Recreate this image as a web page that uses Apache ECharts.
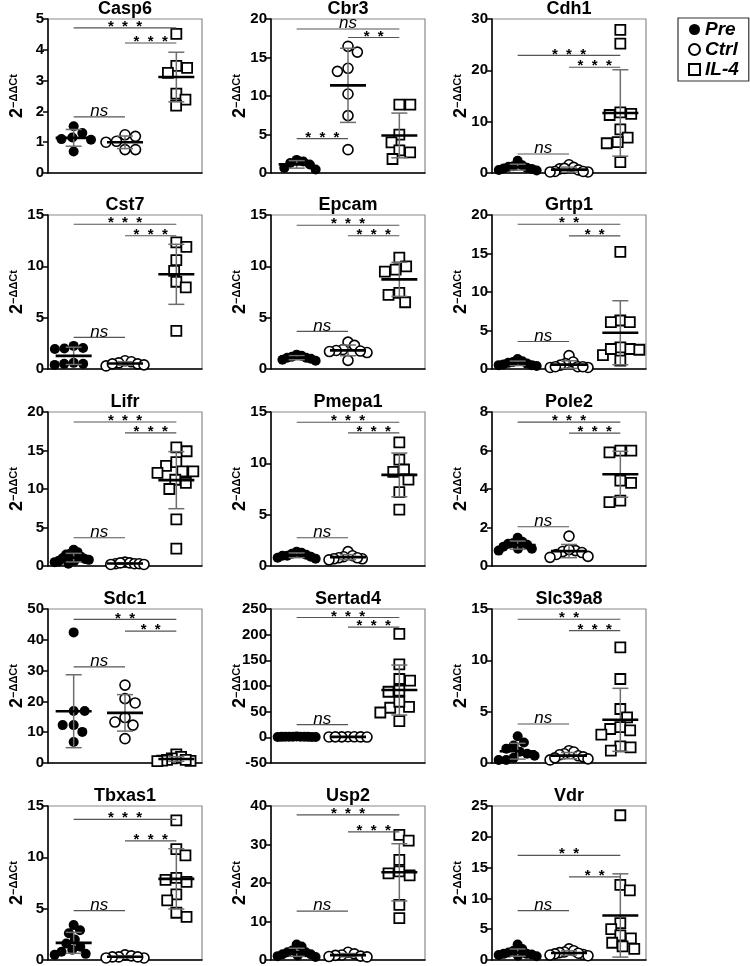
<!DOCTYPE html>
<html><head><meta charset="utf-8">
<script src="https://cdn.jsdelivr.net/npm/echarts@6/dist/echarts.min.js"></script>
<style>html,body{margin:0;padding:0;background:#fff}#c{width:750px;height:966px}</style>
</head><body><div id="c"></div>
<script>
const genes = ['Casp6','Cbr3','Cdh1','Cst7','Epcam','Grtp1','Lifr','Pmepa1','Pole2','Sdc1','Sertad4','Slc39a8','Tbxas1','Usp2','Vdr'];
const groupNames = ['Pre','Ctrl','IL-4'];

const preValues = [
  [1.30,1.52,1.10,1.08,0.70,1.15],
  [1.1,1.7,0.45,0.65,1.5,1.3],
  [2.4,1.5,1.3,1.0,0.8,0.6,0.5,1.2,0.9],
  [2.0,1.95,2.05,2.25,0.5,0.4,0.5,0.6],
  [1.4,1.3,1.2,1.1,1.0,0.9,0.8,1.1],
  [1.3,1.0,0.9,0.8,0.7,0.6,0.5,0.4,0.5],
  [2.1,1.8,1.6,1.5,1.2,1.0,0.9,0.7,0.6,0.5,0.8,0.3],
  [1.4,1.3,1.2,1.1,1.0,0.9,0.7,0.8,1.0],
  [1.47,1.26,1.2,1.1,1.0,0.9,0.8,0.9,1.15],
  [42.4,16.9,16.9,12.3,12.3,10.1,6.8],
  [1.5,1.2,1.0,0.9,0.8,0.7,1.1,1.0,0.9,0.8,1.1],
  [2.6,2.0,1.7,1.4,1.1,0.9,0.7,0.5,0.3,0.3],
  [3.4,2.9,2.6,2.0,1.6,1.3,1.0,0.8,0.6,0.5],
  [4.0,3.5,2.5,2.0,1.5,1.2,1.0,0.8,2.0,1.5],
  [2.5,1.8,1.5,1.2,1.0,0.9,0.8,0.7,0.6,1.0]
];
const ctrlValues = [
  [1.24,1.19,1.0,1.03,0.76,0.76],
  [15.7,16.45,13.6,13.2,10.26,7.45,3.03],
  [1.6,1.1,0.8,0.6,0.3,0.2,0.2,0.9,0.3],
  [0.8,0.7,0.6,0.5,0.4,0.3,0.5],
  [2.62,2.3,1.9,1.8,1.7,1.6,0.84,1.75],
  [1.74,0.9,0.7,0.5,0.3,0.2,0.2,0.3,0.3],
  [0.5,0.4,0.3,0.3,0.2,0.3,0.4,0.2],
  [1.4,1.0,0.9,0.8,0.7,0.6,0.7,0.8],
  [1.55,0.8,0.75,0.7,0.6,0.5,0.45,0.85],
  [25.3,19.5,20.9,13.3,12.3,14.75,7.9],
  [1.2,1.0,0.9,0.8,0.6,0.7,0.9],
  [1.2,1.07,0.9,0.8,0.7,0.6,0.4,0.3,0.5],
  [0.5,0.4,0.3,0.3,0.2,0.2,0.3],
  [2.0,1.6,1.3,1.0,0.8,1.2,0.9],
  [1.8,1.5,1.3,1.2,1.0,0.9,0.8,0.7,1.1]
];
const il4Values = [
  [4.52,3.41,3.48,3.25,2.58,2.38,2.19],
  [8.87,8.87,4.98,3.98,2.94,2.68,1.82],
  [27.9,25.2,11.8,11.5,11.3,8.5,6.9,6.0,5.8,2.1],
  [12.34,11.9,10.6,9.55,8.5,7.95,3.72],
  [10.84,9.68,10.0,9.48,7.41,7.22,6.5],
  [15.2,6.3,6.1,6.1,2.6,2.5,2.8,1.8,1.1,2.6],
  [14.9,15.4,13.0,13.5,12.3,12.1,12.3,11.2,10.8,10.0,6.05,2.25],
  [12.05,10.37,9.4,9.17,8.42,7.19,5.5],
  [5.99,5.9,5.99,4.44,4.32,3.32,3.4],
  [2.8,2.0,1.5,1.0,0.8,0.7,0.6,1.0],
  [201.6,142.3,110.3,113.6,90.8,88.8,59.5,57.6,69.3,48.4,31.5],
  [11.27,8.18,5.26,4.45,3.5,3.18,3.31,2.76,1.62,1.2,1.53],
  [13.6,10.8,10.2,8.0,7.8,7.6,6.4,5.8,4.2,4.6],
  [32.5,31.0,26.0,23.0,22.5,22.0,14.3,10.9],
  [23.5,12.2,11.3,6.0,5.0,4.0,3.5,2.8,2.2,1.8]
];

const yMin = [0,0,0,0,0,0,0,0,0,0,-50,0,0,0,0];
const yMax = [5,20,30,15,15,20,20,15,8,50,250,15,15,40,25];
const yInterval = [1,5,10,5,5,5,5,5,2,10,50,5,5,10,5];

// significance bars: Pre–IL-4 (top), Ctrl–IL-4 (mid), Pre–Ctrl (low)
const sigTopLabel = ['***','ns','***','***','***','**','***','***','***','**','***','**','***','***','**'];
const sigMidLabel = ['***','**','***','***','***','**','***','***','***','**','***','***','***','***','**'];
const sigLowLabel = ['ns','***','ns','ns','ns','ns','ns','ns','ns','ns','ns','ns','ns','ns','ns'];
const sigTopY = [4.71,18.7,22.9,14.1,14.0,18.8,18.7,14.0,7.47,46.6,233.4,14.0,13.7,37.7,17.0];
const sigMidY = [4.22,17.6,20.6,12.98,12.98,17.3,17.3,12.96,6.9,42.8,214.5,12.9,11.6,33.3,13.5];
const sigLowY = [1.82,4.46,3.7,3.08,3.66,3.57,3.67,2.75,2.04,31.2,24.9,3.8,4.8,12.7,8.0];

const FONT = 'Arial, "Liberation Sans", sans-serif';
const colLeft = [48, 271, 492];
const rowTop = [19, 215, 412, 609, 806];
const plotW = 154, plotH = 154;
const X_MIN = -0.5, X_MAX = 2.5;

function mean(a){ return a.reduce((s,v)=>s+v,0)/a.length; }
function sd(a){ const m = mean(a); return Math.sqrt(a.reduce((s,v)=>s+(v-m)*(v-m),0)/(a.length-1)); }

// simple beeswarm: spread overlapping points horizontally (pixel space -> axis units)
function swarm(values, center, pxPerY){
  const pxPerX = plotW/(X_MAX-X_MIN);
  const d = 11, maxHalf = 19;
  const order = values.map((v,i)=>i).sort((a,b)=>values[b]-values[a]);
  const placed = [];
  const offs = new Array(values.length).fill(0);
  let flip = 1;
  order.forEach(idx=>{
    const y = values[idx]*pxPerY;
    let cands = [0];
    placed.forEach(p=>{
      const dy = Math.abs(y-p.y);
      if (dy < d){ const dx = Math.sqrt(d*d-dy*dy); cands.push(p.x+dx, p.x-dx); }
    });
    cands.sort((a,b)=>Math.abs(a)-Math.abs(b) || (flip*(b-a)));
    let chosen = 0;
    for (const c of cands){
      if (placed.every(p=>Math.hypot(p.x-c,p.y-y) >= d-1e-6)){ chosen = c; break; }
    }
    if (chosen !== 0) flip = -flip;
    placed.push({x:chosen,y});
    offs[idx] = chosen;
  });
  const mx = Math.max(...offs.map(Math.abs));
  const k = mx > maxHalf ? maxHalf/mx : 1;
  return values.map((v,i)=>[center + offs[i]*k/pxPerX, v]);
}

const grids=[], xAxes=[], yAxes=[], series=[], titles=[];
const groupStyles = [
  {symbol:'circle', symbolSize:10, itemStyle:{color:'#000', borderColor:'#000', borderWidth:0, opacity:1}},
  {symbol:'circle', symbolSize:10, itemStyle:{color:'#fff', borderColor:'#000', borderWidth:1.6, opacity:1}},
  {symbol:'rect', symbolSize:10, itemStyle:{color:'#fff', borderColor:'#000', borderWidth:1.8, opacity:1}}
];

genes.forEach((g,i)=>{
  const r = Math.floor(i/3), c = i%3;
  const left = colLeft[c], top = rowTop[r];
  grids.push({left, top, width:plotW, height:plotH, show:true, borderColor:'#8a8a8a', borderWidth:1.2, outerBoundsMode:'none', containLabel:false});
  xAxes.push({gridIndex:i, type:'value', min:X_MIN, max:X_MAX,
    axisLine:{show:true, onZero:false, lineStyle:{color:'#000', width:1.5}},
    axisTick:{show:false}, axisLabel:{show:false}, splitLine:{show:false}});
  yAxes.push({gridIndex:i, type:'value', min:yMin[i], max:yMax[i], interval:yInterval[i],
    axisLine:{show:true, onZero:false, lineStyle:{color:'#000', width:1.5}},
    axisTick:{show:true, length:5, lineStyle:{color:'#000', width:1.5}},
    axisLabel:{color:'#000', fontSize:15, fontWeight:'bold', fontFamily:FONT, margin:4},
    splitLine:{show:false},
    name:'{b|2}{s|−ΔΔCt}', nameLocation:'middle', nameGap:22, nameMoveOverlap:false,
    nameTextStyle:{color:'#000', fontFamily:FONT, rich:{
      b:{fontSize:18, fontWeight:'bold', fontFamily:FONT, color:'#000'},
      s:{fontSize:11, fontWeight:'bold', fontFamily:FONT, color:'#000', verticalAlign:'top'}
    }}
  });
  titles.push({text:g, left:left+plotW/2, top:top-19, textAlign:'center', padding:0,
    textStyle:{fontSize:18, fontWeight:'bold', fontFamily:FONT, color:'#000'}});

  const pxPerY = plotH/(yMax[i]-yMin[i]);
  const groups = [preValues[i], ctrlValues[i], il4Values[i]];
  groups.forEach((vals,gi)=>{
    series.push(Object.assign({type:'scatter', name:groupNames[gi], xAxisIndex:i, yAxisIndex:i,
      data:swarm(vals, gi, pxPerY), silent:true, z:2}, groupStyles[gi]));
  });
  // mean ± SD
  series.push({type:'custom', xAxisIndex:i, yAxisIndex:i, silent:true, z:3, clip:false,
    data: groups.map((vals,gi)=>[gi, mean(vals), sd(vals)]),
    renderItem:(params, api)=>{
      const x = api.value(0), m = api.value(1), s = api.value(2);
      const pm = api.coord([x,m]), pt = api.coord([x,m+s]), pb = api.coord([x,m-s]);
      const es = {stroke:'#6e6e6e', lineWidth:1.5};
      return {type:'group', children:[
        {type:'line', shape:{x1:pm[0],y1:pt[1],x2:pm[0],y2:pb[1]}, style:es},
        {type:'line', shape:{x1:pm[0]-8,y1:pt[1],x2:pm[0]+8,y2:pt[1]}, style:es},
        {type:'line', shape:{x1:pm[0]-8,y1:pb[1],x2:pm[0]+8,y2:pb[1]}, style:es},
        {type:'line', shape:{x1:pm[0]-18,y1:pm[1],x2:pm[0]+18,y2:pm[1]}, style:{stroke:'#000', lineWidth:2.6}}
      ]};
    }
  });
  // significance bars
  const sigLabels = [sigTopLabel[i], sigMidLabel[i], sigLowLabel[i]];
  series.push({type:'custom', xAxisIndex:i, yAxisIndex:i, silent:true, z:4, clip:false,
    data:[[0,2,sigTopY[i]],[1,2,sigMidY[i]],[0,1,sigLowY[i]]],
    renderItem:(params, api)=>{
      const p1 = api.coord([api.value(0), api.value(2)]);
      const p2 = api.coord([api.value(1), api.value(2)]);
      const lab = sigLabels[params.dataIndex];
      const ns = lab === 'ns';
      return {type:'group', children:[
        {type:'line', shape:{x1:p1[0],y1:p1[1],x2:p2[0],y2:p2[1]}, style:{stroke:'#555', lineWidth:1.2}},
        {type:'text', x:(p1[0]+p2[0])/2, y: ns ? p1[1]+3 : p1[1]-1,
          style:{text: ns ? 'ns' : lab.split('').join('  '), fill:'#000',
            fontSize: ns ? 17 : 15, fontStyle: ns ? 'italic' : 'normal', fontWeight: ns ? 'normal' : 'bold',
            fontFamily:FONT, align:'center', verticalAlign: ns ? 'bottom' : 'middle'}}
      ]};
    }
  });
});

const chart = echarts.init(document.getElementById('c'), null, {renderer:'canvas'});
chart.setOption({
  animation:false,
  backgroundColor:'#fff',
  title: titles,
  grid: grids, xAxis: xAxes, yAxis: yAxes,
  legend:{data:groupNames, orient:'vertical', left:678, top:18, itemWidth:11, itemHeight:11, itemGap:1,
    padding:[2,10,2,10], borderColor:'#333', borderWidth:1.2, selectedMode:false,
    textStyle:{fontSize:19, fontWeight:'bold', fontStyle:'italic', fontFamily:FONT, color:'#000'}},
  series
});
</script></body></html>
